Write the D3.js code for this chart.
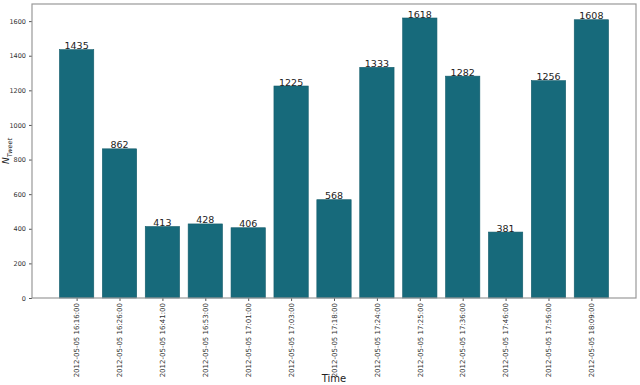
<!DOCTYPE html>
<html>
<head>
<meta charset="utf-8">
<script src="https://cdn.jsdelivr.net/npm/d3@7"></script>
<style>
  body { margin: 0; background: #fff; }
  text { font-family: "DejaVu Sans", sans-serif; }
</style>
</head>
<body>
<div id="chart"></div>
<script>
// DATA //
let times = ["2012-05-05 16:16:00", "2012-05-05 16:26:00", "2012-05-05 16:41:00",
  "2012-05-05 16:53:00", "2012-05-05 17:01:00", "2012-05-05 17:03:00",
  "2012-05-05 17:18:00", "2012-05-05 17:24:00", "2012-05-05 17:25:00",
  "2012-05-05 17:36:00", "2012-05-05 17:46:00", "2012-05-05 17:56:00",
  "2012-05-05 18:09:00"];
let tweets = [1435, 862, 413, 428, 406, 1225, 568, 1333, 1618, 1282, 381, 1256, 1608];
let yTicks = [0, 200, 400, 600, 800, 1000, 1200, 1400, 1600];

// DIMENSIONS //
let margin = {top: 4, right: 4, bottom: 87, left: 32},
    width = 640 - margin.left - margin.right,
    height = 385 - margin.top - margin.bottom;

let svg = d3.select("#chart")
    .append("svg")
    .attr("width", 640)
    .attr("height", 385)
    .append("g")
    .attr("transform", "translate(" + margin.left + "," + margin.top + ")");

// scales, matplotlib style: index positions, bar width 0.8, 5% margins
let n = times.length;
let span = (n - 1) + 0.8;
let xScale = d3.scaleLinear()
    .domain([-0.4 - span * 0.05, n - 1 + 0.4 + span * 0.05])
    .range([0, width]);

let yScale = d3.scaleLinear()
    .domain([0, d3.max(tweets) * 1.05])
    .range([height, 0]);

// BARS //
svg.selectAll("rect.bar")
    .data(tweets)
    .enter()
    .append("rect")
    .attr("class", "bar")
    .attr("x", (d, i) => xScale(i - 0.4))
    .attr("width", xScale(0.8) - xScale(0))
    .attr("y", d => yScale(d))
    .attr("height", d => height - yScale(d))
    .attr("fill", "#176a7b")
    .attr("stroke", "#135c6b")
    .attr("stroke-width", 0.6);

// value labels
svg.selectAll("text.val")
    .data(tweets)
    .enter()
    .append("text")
    .attr("class", "val")
    .attr("x", (d, i) => xScale(i))
    .attr("y", d => yScale(d) - 0.5)
    .attr("text-anchor", "middle")
    .style("font-size", "9.5px")
    .attr("fill", "#222")
    .text(d => d);

// AXES //
let yAxis = svg.append("g")
    .call(d3.axisLeft(yScale).tickValues(yTicks).tickFormat(d3.format("d")).tickSize(3).tickPadding(3));

let xAxis = svg.append("g")
    .attr("transform", "translate(0," + height + ")")
    .call(d3.axisBottom(xScale).tickValues(d3.range(n)).tickFormat(i => times[i]).tickSize(3));

xAxis.selectAll("text")
    .attr("transform", "rotate(-90)")
    .attr("text-anchor", "end")
    .attr("x", -5)
    .attr("y", 0)
    .attr("dy", "0.32em")
    .style("font-size", "7px")
    .attr("fill", "#333");

yAxis.selectAll("text")
    .style("font-size", "6.5px")
    .attr("fill", "#333");

svg.selectAll(".domain").remove();
svg.selectAll(".tick line").attr("stroke", "#555");

// frame
svg.append("rect")
    .attr("x", 0)
    .attr("y", 0)
    .attr("width", width)
    .attr("height", height)
    .attr("fill", "none")
    .attr("stroke", "#999")
    .attr("stroke-width", 1.2);

// axis labels
svg.append("text")
    .attr("text-anchor", "middle")
    .attr("x", width / 2)
    .attr("y", height + 84)
    .style("font-size", "10px")
    .attr("fill", "#222")
    .text("Time");

let yl = svg.append("text")
    .attr("text-anchor", "middle")
    .attr("transform", "translate(" + (-23) + "," + (height / 2) + ") rotate(-90)")
    .style("font-size", "9px")
    .style("font-style", "italic")
    .attr("fill", "#222");
yl.append("tspan").text("N");
yl.append("tspan").attr("dy", "2.5").style("font-size", "6.5px").text("Tweet");
</script>
</body>
</html>
